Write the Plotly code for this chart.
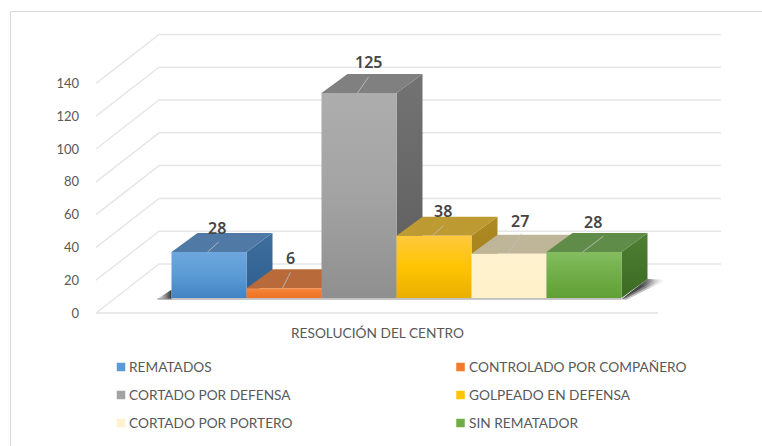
import plotly.graph_objects as go

categories = [
    "REMATADOS",
    "CONTROLADO POR COMPAÑERO",
    "CORTADO POR DEFENSA",
    "GOLPEADO EN DEFENSA",
    "CORTADO POR PORTERO",
    "SIN REMATADOR",
]
values = [28, 6, 125, 38, 27, 28]
y_ticks = [0, 20, 40, 60, 80, 100, 120, 140]
axis_title = "RESOLUCIÓN DEL CENTRO"

# face colours per category: front gradient (top, middle, bottom), top face, side gradient
front_colors = [
    ("#6EA6DE", "#5B9BD5", "#4383C3"),
    ("#F58A45", "#F27A2C", "#EE7424"),
    ("#ADADAD", "#A3A3A3", "#8F8F8F"),
    ("#FFC93F", "#FFC402", "#E8AF00"),
    ("#FFF2CF", "#FFF2CC", "#FFF0C8"),
    ("#84BD60", "#70AD47", "#60A035"),
]
top_colors = ["#5079A6", "#B96A3A", "#808080", "#BE9A32", "#BFB598", "#5F8C48"]
side_colors = [
    ("#3E6E9E", "#2D5F8E"),
    ("#A85A28", "#A85A28"),
    ("#737373", "#5C5C5C"),
    ("#AE8A24", "#A07C18"),
    ("#B8AE90", "#B8AE90"),
    ("#4E7F34", "#3B6B22"),
]
# label offset above the front top edge, leader line end, in pixels
label_lift = [24, 30, 31, 25, 33, 30]
label_dx = [9, 8, 11, 10, 12, 10]
leader_end = [(11, 10), (8, 16), (11, 16), (11, 10), (14, 20), (21, 16)]

WIDTH, HEIGHT = 762, 446
PX_PER_SLOT = 75.0
PX_PER_UNIT = 1.64
ORIGIN_X = 152.5  # pixel of u=0 on the front floor edge
ORIGIN_Y = 313.0  # pixel of value 0 on the front floor edge

WALL_DU, WALL_DV = 0.84, 49 / PX_PER_UNIT
FRONT_DU, FRONT_DV = 19 / PX_PER_SLOT, 15 / PX_PER_UNIT
BAR_DU, BAR_DV = 26 / PX_PER_SLOT, 19 / PX_PER_UNIT
FLOOR_LEFT, FLOOR_RIGHT = -0.753, 6.74

TEXT_FONT = "Lato"
TEXT_SIZE = 13.7
TEXT_COLOR = "#595959"


def data_x(px):
    return (px - ORIGIN_X) / PX_PER_SLOT


def data_y(py):
    return (ORIGIN_Y - py) / PX_PER_UNIT


def poly(xs, ys, color=None, gradient=None):
    trace = dict(
        x=xs + xs[:1],
        y=ys + ys[:1],
        mode="lines",
        fill="toself",
        line={"width": 0, "color": "rgba(0,0,0,0)"},
        showlegend=False,
        hoverinfo="skip",
    )
    if gradient:
        trace["fillgradient"] = gradient
    else:
        trace["fillcolor"] = color
    return go.Scatter(**trace)


def vertical(colors):
    n = len(colors) - 1
    return {
        "type": "vertical",
        "colorscale": [[i / n, c] for i, c in enumerate(colors)],
    }


fig = go.Figure()

# oblique gridlines: left wall then back wall
for tick in y_ticks:
    fig.add_trace(
        go.Scatter(
            x=[FLOOR_LEFT, FLOOR_LEFT + WALL_DU, FLOOR_RIGHT + WALL_DU],
            y=[tick, tick + WALL_DV, tick + WALL_DV],
            mode="lines",
            line={"color": "#E6E6E6", "width": 1.5},
            showlegend=False,
            hoverinfo="skip",
        )
    )
fig.add_trace(
    go.Scatter(
        x=[FLOOR_LEFT, FLOOR_RIGHT],
        y=[0, 0],
        mode="lines",
        line={"color": "#E2E2E2", "width": 1.5},
        showlegend=False,
        hoverinfo="skip",
    )
)

base_u, base_v = FRONT_DU, FRONT_DV
end_u = base_u + len(values)

# floor shadow, left tip and right tail (stacked layers fake the soft edge)
fig.add_trace(
    poly(
        [base_u - 0.2, base_u, base_u],
        [base_v - 0.8, base_v - 0.8, base_v + 5],
        gradient={
            "type": "horizontal",
            "colorscale": [[0, "rgba(70,70,70,0)"], [1, "rgba(40,40,40,0.95)"]],
        },
    )
)
for reach, drop, alpha in [(0.6, 1.2, 0.3), (0.54, 0.2, 0.45), (0.46, -1.0, 0.75)]:
    fig.add_trace(
        poly(
            [end_u, end_u + BAR_DU, end_u + reach, end_u + 0.06],
            [base_v - 0.8, base_v + BAR_DV, base_v + BAR_DV - 0.5, base_v - drop],
            gradient={
                "type": "horizontal",
                "colorscale": [[0, f"rgba(40,40,40,{alpha})"], [0.55, f"rgba(55,55,55,{alpha})"], [1, "rgba(120,120,120,0)"]],
            },
        )
    )

# bars, left to right so each one covers the hidden part of its neighbour
for i, value in enumerate(values):
    u0, u1 = base_u + i, base_u + i + 1
    v0, v1 = base_v, base_v + value
    fig.add_trace(
        poly(
            [u1, u1 + BAR_DU, u1 + BAR_DU, u1],
            [v0, v0 + BAR_DV, v1 + BAR_DV, v1],
            gradient=vertical(side_colors[i][::-1]),
        )
    )
    fig.add_trace(
        poly(
            [u0, u1, u1 + BAR_DU, u0 + BAR_DU],
            [v1, v1, v1 + BAR_DV, v1 + BAR_DV],
            color=top_colors[i],
        )
    )
    fig.add_trace(
        poly(
            [u0, u1, u1, u0],
            [v0, v0, v1, v1],
            gradient=vertical(front_colors[i][::-1]),
        )
    )

fig.add_trace(
    go.Scatter(
        x=[base_u - 0.19, end_u],
        y=[base_v - 0.6, base_v - 0.6],
        mode="lines",
        line={"color": "#8A8A8A", "width": 1},
        showlegend=False,
        hoverinfo="skip",
    )
)

annotations = []

# leader lines and data labels
for i, value in enumerate(values):
    start_u = base_u + i + 36 / PX_PER_SLOT
    top_v = base_v + value
    end_dx, end_dy = leader_end[i]
    fig.add_trace(
        go.Scatter(
            x=[start_u, start_u + end_dx / PX_PER_SLOT],
            y=[top_v, top_v + end_dy / PX_PER_UNIT],
            mode="lines",
            line={"color": "rgba(190,190,190,0.85)", "width": 1},
            showlegend=False,
            hoverinfo="skip",
        )
    )
    annotations.append(
        dict(
            x=start_u + label_dx[i] / PX_PER_SLOT,
            y=top_v + label_lift[i] / PX_PER_UNIT,
            text=str(value),
            showarrow=False,
            xanchor="center",
            yanchor="middle",
            font={"family": "Noto Sans", "size": 16, "weight": 600, "color": "#454545"},
        )
    )

annotations.append(
    dict(
        x=data_x(377),
        y=data_y(332),
        text=axis_title,
        showarrow=False,
        font={"family": TEXT_FONT, "size": TEXT_SIZE, "color": TEXT_COLOR},
    )
)

# legend laid out by hand: two columns, three rows
legend_x = [121, 460.5]
legend_y = [367, 395, 423]
for i, name in enumerate(categories):
    mx, my = legend_x[i % 2], legend_y[i // 2]
    fig.add_trace(
        go.Scatter(
            x=[data_x(mx)],
            y=[data_y(my)],
            mode="markers",
            marker={"symbol": "square", "size": 8.5, "color": front_colors[i][1]},
            name=name,
            showlegend=False,
            hoverinfo="skip",
        )
    )
    annotations.append(
        dict(
            x=data_x(mx + 6),
            y=data_y(my - 0.5),
            text=name,
            showarrow=False,
            xanchor="left",
            yanchor="middle",
            font={"family": TEXT_FONT, "size": TEXT_SIZE, "color": TEXT_COLOR},
        )
    )

fig.update_layout(
    width=WIDTH,
    height=HEIGHT,
    margin={"l": 0, "r": 0, "t": 0, "b": 0},
    paper_bgcolor="white",
    plot_bgcolor="white",
    showlegend=False,
    annotations=annotations,
    xaxis={
        "range": [data_x(0), data_x(WIDTH)],
        "visible": False,
        "fixedrange": True,
    },
    yaxis={
        "range": [data_y(HEIGHT), data_y(0)],
        "anchor": "free",
        "position": 96 / WIDTH,
        "tickmode": "array",
        "tickvals": y_ticks,
        "ticktext": [str(t) for t in y_ticks],
        "ticks": "",
        "ticklabelstandoff": 17,
        "showgrid": False,
        "zeroline": False,
        "showline": False,
        "tickfont": {"family": "Lato", "size": 13, "color": TEXT_COLOR},
        "fixedrange": True,
    },
    shapes=[
        # chart frame: only the top and left edges are in the picture
        dict(type="line", xref="paper", yref="paper", x0=10.5 / WIDTH, x1=1, y0=1 - 11.5 / HEIGHT, y1=1 - 11.5 / HEIGHT,
             line={"color": "#DADADA", "width": 1.2}),
        dict(type="line", xref="paper", yref="paper", x0=10.5 / WIDTH, x1=10.5 / WIDTH, y0=0, y1=1 - 11.5 / HEIGHT,
             line={"color": "#DADADA", "width": 1.2}),
    ],
)

# the page's default body margin would push the fixed-size figure 8px off
fig.write_html(
    "out.html",
    config={"displayModeBar": False},
    post_script="document.body.style.margin = '0';",
)
